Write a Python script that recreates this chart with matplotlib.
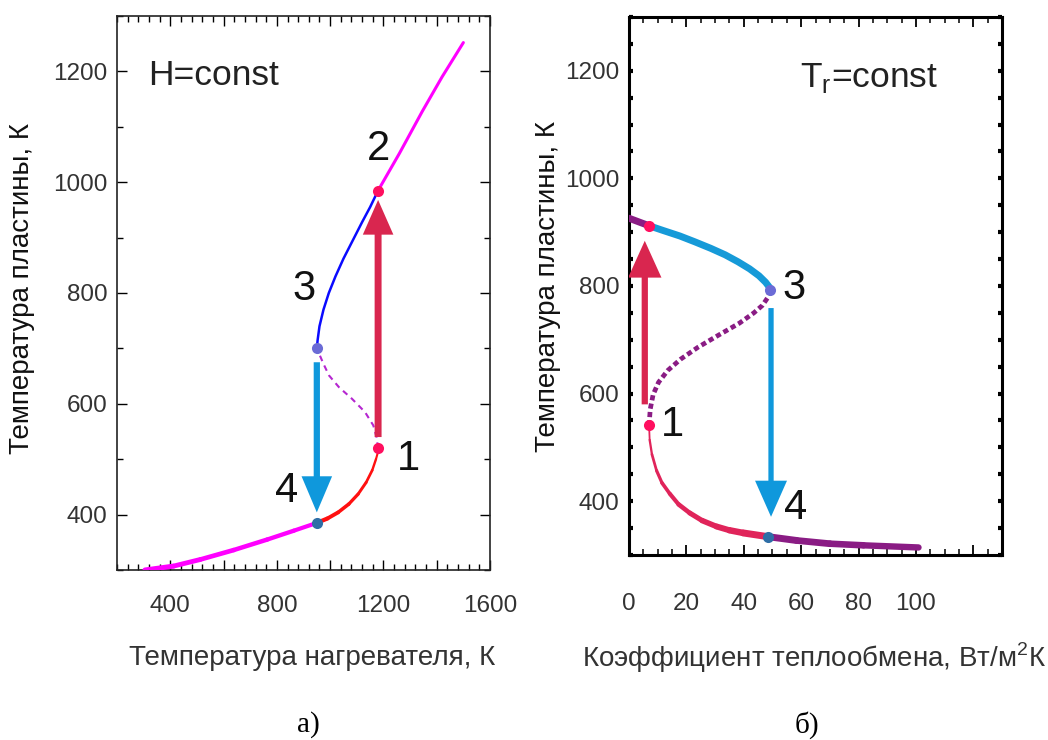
import numpy as np
import matplotlib.pyplot as plt
from matplotlib.collections import LineCollection
from matplotlib.patches import FancyArrowPatch
from matplotlib.ticker import MultipleLocator

plt.rcParams['font.family'] = ['Liberation Sans', 'DejaVu Sans']
plt.rcParams['mathtext.fontset'] = 'custom'
plt.rcParams['mathtext.rm'] = 'Liberation Sans'

# ---- a) H = const : plate temperature vs heater temperature ----
heater_low = [305, 412, 513, 638, 764, 864, 950]
plate_low = [300, 307, 319, 336, 355, 371, 385]
heater_ign = [950, 990, 1030, 1070, 1105, 1135, 1158, 1172, 1179, 1180]
plate_ign = [385, 393, 404, 419, 437, 458, 480, 500, 512, 520]
heater_unst = [1180, 1174, 1162, 1131, 1082, 1033, 996, 975, 959, 950]
plate_unst = [520, 540, 561, 585, 609, 630, 651, 672, 690, 700]
heater_ext = [950, 953, 960, 975, 995, 1020, 1050, 1085, 1120, 1150, 1180]
plate_ext = [700, 715, 740, 770, 800, 830, 862, 895, 928, 955, 985]
heater_high = [1180, 1260, 1346, 1420, 1500]
plate_high = [985, 1052, 1128, 1190, 1252]

a_pts_x = [1180, 1180, 950, 950]
a_pts_y = [520, 985, 700, 385]
a_pts_lbl = ['1', '2', '3', '4']
a_up = (1180, 540, 968)     # x, from, to
a_down = (950, 675, 404)

# ---- б) Tr = const : plate temperature vs heat transfer coefficient ----
coef_top = [0, 7]
tp_top = [926, 912]
coef_hot = [7, 12, 17.7, 23, 28.5, 33.5, 38, 42, 45.3, 47.6, 48.9, 49.3]
tp_hot = [912, 903, 893, 882, 870, 858, 845, 832, 819, 807, 798, 792]
coef_unst = [49.3, 48.3, 46.5, 43.5, 38.5, 31, 24, 18, 13.5, 10.3, 8.4, 7.4, 7]
tp_unst = [792, 778, 764, 750, 731, 708, 686, 664, 643, 621, 598, 571, 541]
coef_cold = [7, 7.2, 8, 9.6, 11.5, 14.2, 17.3, 21.2, 25.5, 30.5, 35, 39.8, 48.5]
tp_cold = [541, 514, 487, 457, 434, 414, 394, 378, 364, 353, 346, 341, 334]
coef_tail = [48.5, 58.4, 70, 81.7, 100.9]
tp_tail = [334, 327, 321, 318, 314]

b_pts_x = [7, 49.3, 48.5, 7]
b_pts_y = [541, 792, 334, 912]
b_pts_lbl = ['1', '3', '4', '']
b_up = (5.5, 580, 884)
b_down = (49.5, 759, 371)

RED_DOT = '#ff0f5f'
MID_DOT = '#6b6bd6'
LOW_DOT = '#2e6ea6'
UP_ARROW = '#d9264f'
DOWN_ARROW = '#0f98dc'
TICK_COLOR = '#333333'


def tapered(ax, x, y, w0, w1, color, z=3):
    pts = np.column_stack([x, y]).reshape(-1, 1, 2)
    segs = np.concatenate([pts[:-1], pts[1:]], axis=1)
    lc = LineCollection(segs, linewidths=np.linspace(w0, w1, len(segs)),
                        colors=color, capstyle='round', joinstyle='round', zorder=z)
    ax.add_collection(lc)


def jump(ax, spec, color, hl, hw, tw):
    x, y0, y1 = spec
    arr = FancyArrowPatch((x, y0), (x, y1),
                          arrowstyle=f'simple,head_length={hl},head_width={hw},tail_width={tw}',
                          mutation_scale=10, color=color, lw=0,
                          shrinkA=0, shrinkB=0, zorder=4)
    ax.add_patch(arr)


fig = plt.figure(figsize=(10.48, 7.40), dpi=100)
W, H = 1048, 740
ax1 = fig.add_axes([117 / W, 1 - 570 / H, (490 - 117) / W, (570 - 16) / H])
ax2 = fig.add_axes([629 / W, 1 - 555 / H, (1002 - 629) / W, (555 - 17) / H])

# panel a
tapered(ax1, heater_low, plate_low, 3.6, 3.0, '#ff00ff')
tapered(ax1, heater_ign, plate_ign, 3.0, 1.3, '#ff1010')
ax1.plot(heater_unst, plate_unst, color='#b526d0', lw=1.5, dashes=(2.8, 2.3), zorder=3)
ax1.plot(heater_ext, plate_ext, color='#0a0aff', lw=1.8, solid_capstyle='round', zorder=3)
ax1.plot(heater_high, plate_high, color='#ff00ff', lw=2.2, solid_capstyle='round', zorder=3)
jump(ax1, a_up, UP_ARROW, 2.5, 2.2, 0.5)
jump(ax1, a_down, DOWN_ARROW, 2.6, 2.2, 0.45)
a_cols = [RED_DOT, RED_DOT, MID_DOT, LOW_DOT]
a_offs = [(22, -8), (0, 30), (-9, 43), (-22, 23)]
for x, y, lbl, c, off in zip(a_pts_x, a_pts_y, a_pts_lbl, a_cols, a_offs):
    ax1.plot(x, y, 'o', ms=8, color=c, mec='none', zorder=5)
    ax1.annotate(lbl, (x, y), xytext=off, textcoords='offset points',
                 ha='center', va='center', fontsize=30, color='#111111')
ax1.text(0.083, 0.893, 'H=const', transform=ax1.transAxes, fontsize=25.5,
         color='#222222', va='center', ha='left')

ax1.set_xlim(200, 1600)
ax1.set_ylim(300, 1300)
ax1.xaxis.set_minor_locator(MultipleLocator(40))
ax1.set_xticks([400, 600, 800, 1000, 1200, 1400, 1600])
ax1.set_xticklabels(['400', '', '800', '', '1200', '', '1600'])
ax1.set_yticks([400, 600, 800, 1000, 1200])
ax1.yaxis.set_minor_locator(MultipleLocator(100))
ax1.tick_params(which='both', direction='in', top=True, right=True,
                labelsize=17.5, labelcolor=TICK_COLOR, width=1.0)
ax1.tick_params(which='major', length=7)
ax1.tick_params(which='minor', length=4)
ax1.tick_params(axis='x', pad=18)
ax1.tick_params(axis='y', pad=7)
for s in ax1.spines.values():
    s.set_linewidth(1.2)
    s.set_color('#222222')

# panel b
ax2.plot(coef_top, tp_top, color='#8a1c84', lw=5, solid_capstyle='round', zorder=3)
ax2.plot(coef_hot, tp_hot, color='#169ad8', lw=5, solid_capstyle='round', zorder=3)
ax2.plot(coef_unst, tp_unst, color='#8a1c84', lw=3.4, dashes=(1.1, 0.7), zorder=3)
tapered(ax2, coef_cold, tp_cold, 1.3, 5.0, '#e0245a')
tapered(ax2, coef_tail, tp_tail, 5.0, 4.6, '#8a1c84')
jump(ax2, b_up, UP_ARROW, 2.65, 2.4, 0.45)
jump(ax2, b_down, DOWN_ARROW, 2.6, 2.3, 0.38)
b_cols = [RED_DOT, MID_DOT, LOW_DOT, RED_DOT]
b_offs = [(17, 0), (17, 2), (20, 21), (0, 0)]
for x, y, lbl, c, off in zip(b_pts_x, b_pts_y, b_pts_lbl, b_cols, b_offs):
    ax2.plot(x, y, 'o', ms=8, color=c, mec='none', zorder=5)
    if lbl:
        ax2.annotate(lbl, (x, y), xytext=off, textcoords='offset points',
                     ha='center', va='center', fontsize=30, color='#111111')
ax2.text(0.458, 0.887, r'T$_{\mathregular{r}}$=const', transform=ax2.transAxes,
         fontsize=25.5, color='#222222', va='center', ha='left')

ax2.set_xlim(0, 130)
ax2.set_ylim(300, 1300)
ax2.set_xticks([0, 20, 40, 60, 80, 100, 120])
ax2.set_xticklabels(['0', '20', '40', '60', '80', '100', ''])
ax2.xaxis.set_minor_locator(MultipleLocator(5))
ax2.set_yticks([400, 600, 800, 1000, 1200])
ax2.yaxis.set_minor_locator(MultipleLocator(50))
ax2.tick_params(which='both', direction='in', top=True, right=True,
                labelsize=17.5, labelcolor=TICK_COLOR)
ax2.tick_params(axis='x', which='major', length=7, width=1.3, pad=27)
ax2.tick_params(axis='x', which='minor', length=4, width=1.1)
ax2.tick_params(axis='y', which='both', length=3, width=3, pad=7)
for s in ax2.spines.values():
    s.set_linewidth(2.2)
    s.set_color('black')

# axis titles and panel captions
fig.text(22 / W, 1 - 288 / H, 'Температура пластины, К', rotation=90,
         ha='center', va='center', fontsize=20, color='#111111')
fig.text(548 / W, 1 - 287 / H, 'Температура пластины, К', rotation=90,
         ha='center', va='center', fontsize=20, color='#111111')
fig.text(312 / W, 1 - 658 / H, 'Температура нагревателя, К',
         ha='center', va='center', fontsize=20, color='#333333')
fig.text(814 / W, 1 - 658 / H, 'Коэффициент теплообмена, Вт/м$^{2}$К',
         ha='center', va='center', fontsize=20, color='#333333')
fig.text(308 / W, 1 - 725 / H, 'а)', ha='center', va='center', fontsize=21,
         family=['Liberation Serif', 'DejaVu Serif'])
fig.text(807 / W, 1 - 725 / H, 'б)', ha='center', va='center', fontsize=21,
         family=['Liberation Serif', 'DejaVu Serif'])

fig.savefig('out.png', dpi=100, facecolor='white')
